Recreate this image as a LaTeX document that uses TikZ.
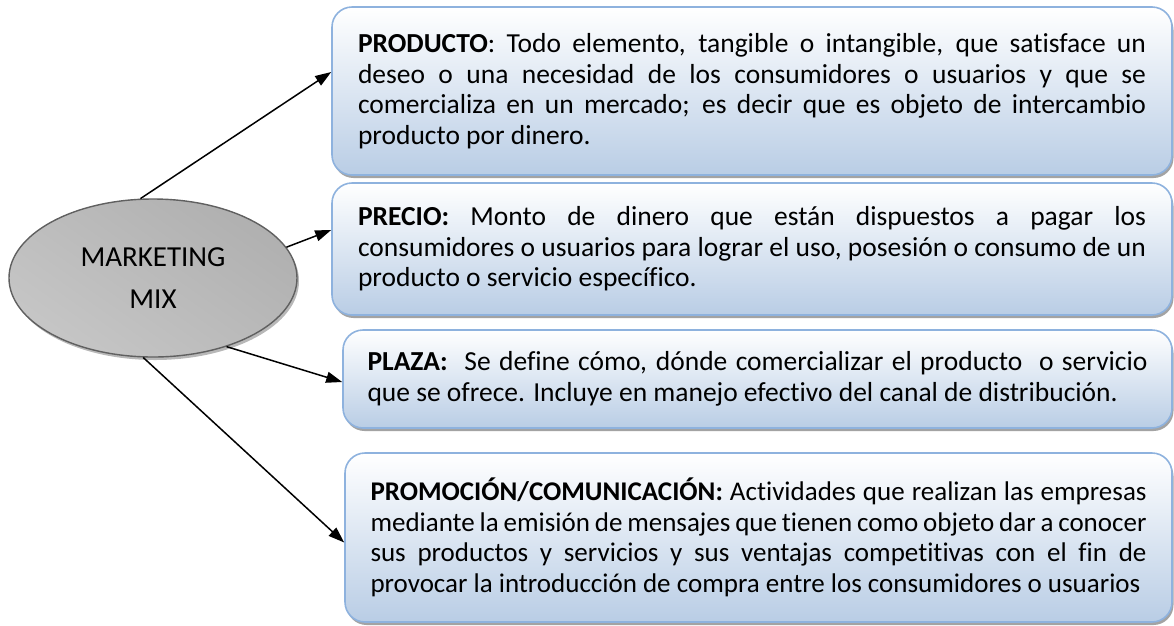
\documentclass[tikz,border=0pt]{standalone}
\usepackage{fontspec}
\setmainfont{Carlito}[Ligatures=NoCommon]
\usetikzlibrary{shapes.geometric,shadows,arrows.meta,calc}
\definecolor{boxline}{RGB}{142,178,222}
\definecolor{boxbot}{RGB}{185,205,229}
\definecolor{ellline}{RGB}{96,96,96}
\tikzset{
  infobox/.style={draw=boxline, line width=1.6pt, rounded corners=20pt,
    top color=white, bottom color=boxbot, inner sep=0pt,
    align=justify, font=\fontsize{27.5}{30.5}\selectfont,
    execute at begin node={\hyphenpenalty=10000\relax\exhyphenpenalty=10000\relax},
    drop shadow={shadow xshift=1.5pt, shadow yshift=-3pt, fill=black!45, opacity=0.8}},
  mixell/.style={ellipse, draw=ellline, line width=1.4pt, inner sep=0pt,
    top color=gray!62, middle color=gray!14, bottom color=gray!45, shading angle=-35,
    align=center, font=\fontsize{29}{42}\selectfont,
    drop shadow={shadow xshift=2pt, shadow yshift=-3pt, fill=black!35, opacity=0.8}},
  link/.style={line width=1.5pt, -{Triangle[length=16pt,width=11pt]}}
}
\begin{document}
\begin{tikzpicture}[x=1pt,y=-1pt]
\useasboundingbox (0,0) rectangle (1174,625);
\node[mixell, minimum width=288pt, minimum height=158pt] (mix) at (153,278) {MARKETING\\MIX};
\node[infobox, minimum width=840pt, minimum height=168pt, text width=788pt] (prod) at (752,91)
 {\textbf{PRODUCTO}: Todo elemento, tangible o intangible, que satisface un\linebreak
 deseo o una necesidad de los consumidores o usuarios y que se\linebreak
 comercializa en un mercado; es decir que es objeto de intercambio\linebreak
 producto por dinero.};
\node[infobox, minimum width=840pt, minimum height=132pt, text width=788pt] (prec) at (752,249)
 {\textbf{PRECIO:} Monto de dinero que están dispuestos a pagar los\linebreak
 consumidores o usuarios para lograr el uso, posesión o consumo de un\linebreak
 producto o servicio específico.};
\node[infobox, minimum width=829pt, minimum height=98pt, text width=780pt] (plaza) at (757.5,379)
 {\textbf{PLAZA:}\ \ Se define cómo, dónde comercializar el producto\ \ o servicio\linebreak
 que se ofrece. Incluye en manejo efectivo del canal de distribución.};
\node[infobox, minimum width=827pt, minimum height=169pt, text width=776pt,
  font=\fontsize{27}{30.5}\selectfont] (promo) at (758.5,537.5)
 {\textbf{PROMOCIÓN/COMUNICACIÓN:} Actividades que realizan las empresas\linebreak
 mediante la emisión de mensajes que tienen como objeto dar a conocer\linebreak
 sus productos y servicios y sus ventajas competitivas con el fin de\linebreak
 provocar la introducción de compra entre los consumidores o usuarios};
\draw[link] (mix.99) -- ($(prod.west)+(0,-19)$);
\draw[link] (mix.13) -- ($(prec.west)+(0,-19)$);
\draw[link] (mix.-43) -- ($(plaza.west)+(0,3)$);
\draw[link] (mix.-97) -- ($(promo.west)+(0,5)$);
\end{tikzpicture}
\end{document}
